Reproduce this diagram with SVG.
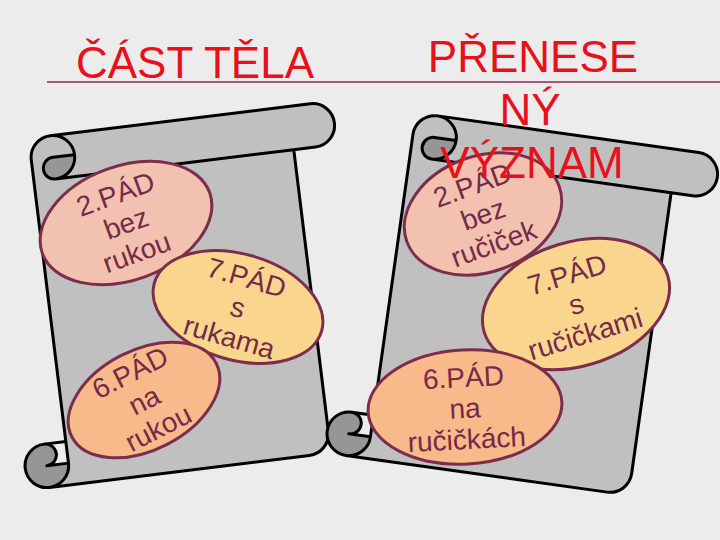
<svg xmlns="http://www.w3.org/2000/svg" width="720" height="540" viewBox="0 0 720 540">
<defs>
<style>
.bg{fill:#ececec}
.body{fill:#c0c0c0;stroke:none}
.dark{fill:#969696;stroke:none}
.outl{fill:none;stroke:#000;stroke-width:3;stroke-linejoin:round;stroke-linecap:round}
.ell{stroke:#7b2d4b;stroke-width:3}
.pink{fill:#f2c1af}
.yel{fill:#fad58e}
.org{fill:#f8b98b}
.et{font-family:"Liberation Sans",Arial,sans-serif;font-size:28px;fill:#742a48;text-anchor:middle}
.title{font-family:"Liberation Sans",Arial,sans-serif;font-size:44px;fill:#e8101a;text-anchor:middle}
</style>
</defs>
<rect class="bg" x="0" y="0" width="720" height="540"/>
<line x1="47" y1="82" x2="720" y2="82" stroke="#a8587a" stroke-width="2"/>

<g id="scroll-left" transform="translate(179.8,295.6) rotate(-7) translate(-174.5,-174.5)">
<path class="body" d="M21.8,349 A21.8,21.8 0 0 0 43.6,327.2 L43.6,21.8 A21.8,21.8 0 0 1 65.4,0 L327.2,0 A21.8,21.8 0 0 1 327.2,43.6 L305.4,43.6 L305.4,327.2 A21.8,21.8 0 0 1 283.6,349 Z"/>
<path class="dark" d="M87.2,21.8 A21.8,21.8 0 0 1 65.4,43.6 A10.9,10.9 0 0 1 65.4,21.8 Z M43.6,327.2 A21.8,21.8 0 1 1 21.8,305.4 A10.9,10.9 0 0 1 21.8,327.2 Z"/>
<path class="outl" d="M43.6,305.4 L43.6,21.8 A21.8,21.8 0 0 1 65.4,0 L327.2,0 A21.8,21.8 0 0 1 327.2,43.6 L305.4,43.6 L305.4,327.2 A21.8,21.8 0 0 1 283.6,349 L21.8,349 A21.8,21.8 0 0 1 21.8,305.4 Z M65.4,0 A21.8,21.8 0 0 1 65.4,43.6 A10.9,10.9 0 0 1 65.4,21.8 L87.2,21.8 M305.4,43.6 L65.4,43.6 M21.8,305.4 A10.9,10.9 0 0 1 21.8,327.2 L43.6,327.2 M21.8,349 A21.8,21.8 0 0 0 43.6,327.2 L43.6,305.4"/>
</g>

<g id="scroll-right" transform="translate(522.3,304) rotate(8) translate(-175.5,-174.5)">
<path class="body" d="M21.8,349 A21.8,21.8 0 0 0 43.6,327.2 L43.6,21.8 A21.8,21.8 0 0 1 65.4,0 L329.2,0 A21.8,21.8 0 0 1 329.2,43.6 L307.4,43.6 L307.4,327.2 A21.8,21.8 0 0 1 285.6,349 Z"/>
<path class="dark" d="M87.2,21.8 A21.8,21.8 0 0 1 65.4,43.6 A10.9,10.9 0 0 1 65.4,21.8 Z M43.6,327.2 A21.8,21.8 0 1 1 21.8,305.4 A10.9,10.9 0 0 1 21.8,327.2 Z"/>
<path class="outl" d="M43.6,305.4 L43.6,21.8 A21.8,21.8 0 0 1 65.4,0 L329.2,0 A21.8,21.8 0 0 1 329.2,43.6 L307.4,43.6 L307.4,327.2 A21.8,21.8 0 0 1 285.6,349 L21.8,349 A21.8,21.8 0 0 1 21.8,305.4 Z M65.4,0 A21.8,21.8 0 0 1 65.4,43.6 A10.9,10.9 0 0 1 65.4,21.8 L87.2,21.8 M307.4,43.6 L65.4,43.6 M21.8,305.4 A10.9,10.9 0 0 1 21.8,327.2 L43.6,327.2 M21.8,349 A21.8,21.8 0 0 0 43.6,327.2 L43.6,305.4"/>
</g>

<g id="left-2pad" transform="translate(126,223) rotate(-20)">
<ellipse class="ell pink" cx="0" cy="0" rx="89" ry="57"/>
<text class="et" x="0" y="-21">2.PÁD</text>
<text class="et" x="0" y="10">bez</text>
<text class="et" x="0" y="41">rukou</text>
</g>
<g id="left-7pad" transform="translate(238,307) rotate(16)">
<ellipse class="ell yel" cx="0" cy="0" rx="87" ry="53"/>
<text class="et" x="0" y="-21">7.PÁD</text>
<text class="et" x="0" y="10">s</text>
<text class="et" x="0" y="41">rukama</text>
</g>
<g id="left-6pad" transform="translate(144,400) rotate(-27)">
<ellipse class="ell org" cx="0" cy="0" rx="81" ry="50"/>
<text class="et" x="0" y="-21">6.PÁD</text>
<text class="et" x="0" y="10">na</text>
<text class="et" x="0" y="41">rukou</text>
</g>

<g id="right-2pad" transform="translate(483,214) rotate(-20)">
<ellipse class="ell pink" cx="0" cy="0" rx="81" ry="58"/>
<text class="et" x="0" y="-21">2.PÁD</text>
<text class="et" x="0" y="10">bez</text>
<text class="et" x="0" y="41">ručiček</text>
</g>
<g id="right-7pad" transform="translate(576,304) rotate(-17)">
<ellipse class="ell yel" cx="0" cy="0" rx="96" ry="62"/>
<text class="et" x="0" y="-21">7.PÁD</text>
<text class="et" x="0" y="10">s</text>
<text class="et" x="0" y="41">ručičkami</text>
</g>
<g id="right-6pad" transform="translate(465,407) rotate(-3)">
<ellipse class="ell org" cx="0" cy="0" rx="97" ry="57"/>
<text class="et" x="0" y="-20">6.PÁD</text>
<text class="et" x="0" y="11">na</text>
<text class="et" x="0" y="42">ručičkách</text>
</g>

<g id="title-left">
<text class="title" x="195" y="78">ČÁST TĚLA</text>
</g>
<g id="title-right">
<text class="title" x="533" y="72">PŘENESE</text>
<text class="title" x="530" y="125">NÝ</text>
<text class="title" x="532" y="178">VÝZNAM</text>
</g>
</svg>
